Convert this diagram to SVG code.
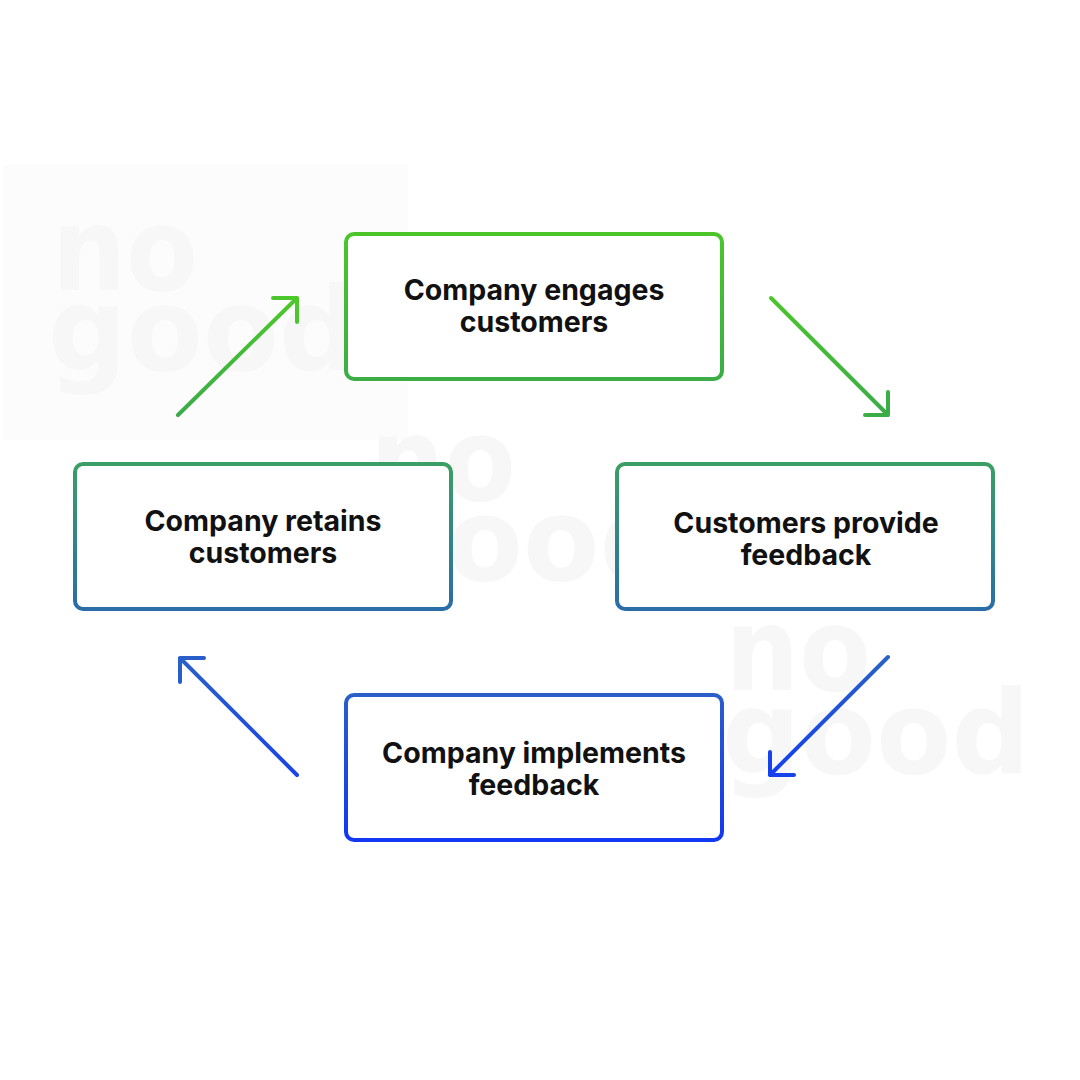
<svg xmlns="http://www.w3.org/2000/svg" width="1080" height="1080" viewBox="0 0 1080 1080">
<defs>
<linearGradient id="gTop" x1="0" y1="0" x2="0" y2="1"><stop offset="0" stop-color="#4cc52b"/><stop offset="1" stop-color="#3cad47"/></linearGradient>
<linearGradient id="gMid" x1="0" y1="0" x2="0" y2="1"><stop offset="0" stop-color="#3a9f64"/><stop offset="1" stop-color="#2a6da8"/></linearGradient>
<linearGradient id="gBot" x1="0" y1="0" x2="0" y2="1"><stop offset="0" stop-color="#2a5ec9"/><stop offset="1" stop-color="#1238f2"/></linearGradient>
<linearGradient id="a1" gradientUnits="userSpaceOnUse" x1="178" y1="415" x2="297" y2="298"><stop offset="0" stop-color="#3bab4a"/><stop offset="1" stop-color="#4cc92a"/></linearGradient>
<linearGradient id="a2" gradientUnits="userSpaceOnUse" x1="771" y1="298" x2="888" y2="415"><stop offset="0" stop-color="#4cc52c"/><stop offset="1" stop-color="#3aac48"/></linearGradient>
<linearGradient id="a3" gradientUnits="userSpaceOnUse" x1="888" y1="657" x2="770" y2="775"><stop offset="0" stop-color="#2a62c4"/><stop offset="1" stop-color="#1440ef"/></linearGradient>
<linearGradient id="a4" gradientUnits="userSpaceOnUse" x1="297" y1="775" x2="180" y2="658"><stop offset="0" stop-color="#1a44e6"/><stop offset="1" stop-color="#2a60c8"/></linearGradient>
</defs>
<style>
.box{fill:#ffffff;stroke-width:4}
.lbl{font-family:Inter,"Liberation Sans",sans-serif;font-weight:700;font-size:28.5px;fill:#111111;text-anchor:middle}
.wm{font-family:"DejaVu Sans","Liberation Sans",sans-serif;font-weight:700;font-size:116px;fill:#f7f7f7}
.arr{fill:none;stroke-width:4;stroke-linecap:round;stroke-linejoin:round}
</style>
<rect width="1080" height="1080" fill="#ffffff"/>
<g id="watermarks">
<rect x="3" y="165" width="405" height="275" fill="#fcfcfc"/>
<text class="wm" x="52" y="290" textLength="146" lengthAdjust="spacingAndGlyphs">no</text>
<text class="wm" x="48" y="370" textLength="310" lengthAdjust="spacingAndGlyphs">good</text>
<text class="wm" x="370" y="500" textLength="146" lengthAdjust="spacingAndGlyphs">no</text>
<text class="wm" x="367" y="580" textLength="312" lengthAdjust="spacingAndGlyphs">good</text>
<text class="wm" x="725" y="690" textLength="146" lengthAdjust="spacingAndGlyphs">no</text>
<text class="wm" x="722" y="773" textLength="308" lengthAdjust="spacingAndGlyphs">good</text>
</g>
<g id="connectors">
<path class="arr" stroke="url(#a1)" d="M178 415 L297 298 M273 298 L297 298 L297 322"/>
<path class="arr" stroke="url(#a2)" d="M771 298 L888 415 M888 392 L888 415 L865 415"/>
<path class="arr" stroke="url(#a3)" d="M888 657 L770 775 M770 752 L770 775 L794 775"/>
<path class="arr" stroke="url(#a4)" d="M297 775 L180 658 M204 658 L180 658 L180 682"/>
</g>
<g id="node-engages">
<rect class="box" x="346" y="234" width="376" height="145" rx="8" stroke="url(#gTop)"/>
<text class="lbl" x="534" y="300">Company engages</text>
<text class="lbl" x="534" y="332">customers</text>
</g>
<g id="node-feedback">
<rect class="box" x="617" y="464" width="376" height="145" rx="8" stroke="url(#gMid)"/>
<text class="lbl" x="806" y="533">Customers provide</text>
<text class="lbl" x="806" y="565">feedback</text>
</g>
<g id="node-retains">
<rect class="box" x="75" y="464" width="376" height="145" rx="8" stroke="url(#gMid)"/>
<text class="lbl" x="263" y="531">Company retains</text>
<text class="lbl" x="263" y="563">customers</text>
</g>
<g id="node-implements">
<rect class="box" x="346" y="695" width="376" height="145" rx="8" stroke="url(#gBot)"/>
<text class="lbl" x="534" y="763">Company implements</text>
<text class="lbl" x="534" y="795">feedback</text>
</g>
</svg>
